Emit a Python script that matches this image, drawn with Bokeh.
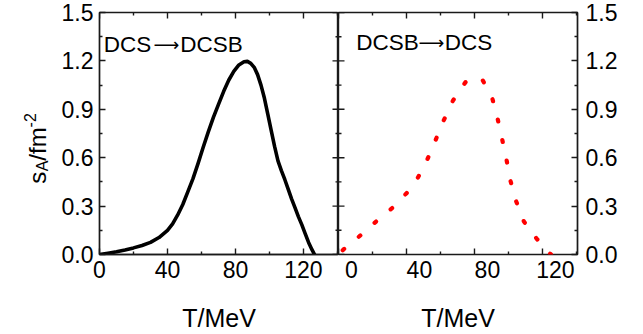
import math
from bokeh.plotting import figure
from bokeh.layouts import row
from bokeh.models import LinearAxis, FixedTicker, Range1d, Label, PrintfTickFormatter
from bokeh.core.properties import value
from bokeh.embed import file_html
from bokeh.resources import INLINE

# ---- data ----
t_dcs_to_dcsb = [0, 5, 10, 15, 20, 25, 30, 35, 40, 43, 46, 49, 52, 55, 58, 61, 64, 67,
                 70, 73, 76, 79, 82, 85, 87, 89, 91, 93, 95, 97, 99, 101, 103, 105, 107,
                 109, 111, 113, 115, 117, 119, 121, 123, 125, 126.5]
s_dcs_to_dcsb = [0.0, 0.008, 0.017, 0.028, 0.041, 0.056, 0.075, 0.105, 0.15, 0.19, 0.245,
                 0.31, 0.39, 0.47, 0.565, 0.665, 0.76, 0.85, 0.93, 1.01, 1.08, 1.135,
                 1.175, 1.195, 1.197, 1.185, 1.16, 1.115, 1.05, 0.97, 0.87, 0.77, 0.67,
                 0.58, 0.52, 0.465, 0.405, 0.345, 0.29, 0.235, 0.185, 0.13, 0.075, 0.03, 0.0]

t_dcsb_to_dcs = [0, 3.1, 13.1, 22.3, 31.8, 40.4, 46.8, 52.3, 57.2, 61.9, 67.4, 74.7,
                 79.5, 84.7, 90.4, 93.5, 96.2, 98.8, 101.1, 104.3, 109.0, 116.5, 124.3, 125]
s_dcsb_to_dcs = [0.0, 0.033, 0.12, 0.206, 0.29, 0.384, 0.478, 0.59, 0.711, 0.831, 0.955,
                 1.068, 1.095, 1.082, 0.971, 0.847, 0.718, 0.59, 0.46, 0.336, 0.206,
                 0.099, 0.006, 0.0]

x_major = [0, 40, 80, 120]
x_minor = [20, 60, 100, 140]
y_major = [0.0, 0.3, 0.6, 0.9, 1.2, 1.5]
y_minor = [0.15, 0.45, 0.75, 1.05, 1.35]

x_lo, x_hi = 0, 140.6
y_lo, y_hi = 0, 1.5
right_label_shift = 7.6   # the right panel's printed tick labels sit right of its ticks

FONT = "Liberation Sans"
AX_COLOR = "#1a1a1a"
LW = 1.4
H = 334
TOP, BOTTOM = 12, 79


def style_axis(ax, ticks, minor, fmt=None, show_ticks=True):
    ax.ticker = FixedTicker(ticks=ticks, minor_ticks=minor if show_ticks else [])
    if fmt is not None:
        ax.formatter = fmt
    ax.axis_line_color = AX_COLOR if show_ticks else None
    ax.axis_line_width = LW
    ax.major_tick_line_color = AX_COLOR if show_ticks else None
    ax.minor_tick_line_color = AX_COLOR if show_ticks else None
    ax.major_tick_line_width = LW
    ax.minor_tick_line_width = LW
    ax.major_tick_in = 6
    ax.major_tick_out = 0
    ax.minor_tick_in = 3
    ax.minor_tick_out = 0
    ax.major_label_text_font = FONT
    ax.major_label_text_font_size = "23px"
    ax.major_label_text_color = "black"
    ax.axis_label_text_font = FONT
    ax.axis_label_text_font_style = "normal"
    ax.axis_label_text_color = "black"
    ax.axis_label_text_font_size = "25px"


def border_ticks(p, sides):
    # inward tick marks on the unlabeled sides, clipped by the frame
    for side in sides:
        if side == "top":
            xs_M, ys_M, xs_m, ys_m, ang = x_major, [y_hi] * len(x_major), x_minor, [y_hi] * len(x_minor), math.pi / 2
        elif side == "bottom":
            xs_M, ys_M, xs_m, ys_m, ang = x_major, [y_lo] * len(x_major), x_minor, [y_lo] * len(x_minor), math.pi / 2
        elif side == "left":
            xs_M, ys_M, xs_m, ys_m, ang = [x_lo] * len(y_major), y_major, [x_lo] * len(y_minor), y_minor, 0
        else:
            xs_M, ys_M, xs_m, ys_m, ang = [x_hi] * len(y_major), y_major, [x_hi] * len(y_minor), y_minor, 0
        p.scatter(xs_M, ys_M, marker="dash", size=12, angle=ang, line_color=AX_COLOR,
                  line_width=LW, fill_color=None)
        p.scatter(xs_m, ys_m, marker="dash", size=6, angle=ang, line_color=AX_COLOR,
                  line_width=LW, fill_color=None)


def make_panel(width, min_left, min_right):
    p = figure(width=width, height=H, x_range=Range1d(x_lo, x_hi),
               y_range=Range1d(y_lo, y_hi), output_backend="svg",
               toolbar_location=None, x_axis_location=None, y_axis_location=None)
    p.min_border_left = min_left
    p.min_border_right = min_right
    p.min_border_top = TOP
    p.min_border_bottom = BOTTOM
    p.outline_line_color = AX_COLOR
    p.outline_line_width = LW
    p.background_fill_color = "white"
    p.border_fill_color = "white"
    p.xgrid.visible = False
    p.ygrid.visible = False
    return p


yfmt1 = PrintfTickFormatter(format="%.1f")
yfmt2 = PrintfTickFormatter(format="%.1f")

# ---- narrow strip holding the rotated y-axis title  s_A/fm^-2 ----
# (its frame is aligned with the panels' frames by the row layout, so the
#  range is chosen to make 1 unit = 1 pixel, counted up from the page bottom)
yt = figure(width=55, height=H, x_range=Range1d(0, 55), y_range=Range1d(BOTTOM, H - TOP),
            output_backend="svg", toolbar_location=None, x_axis_location=None,
            y_axis_location=None, min_border=0)
yt.min_border_top = TOP
yt.min_border_bottom = BOTTOM
yt.outline_line_color = None
yt.background_fill_color = "white"
yt.border_fill_color = "white"
yt.xgrid.visible = False
yt.ygrid.visible = False
rot = math.pi / 2
yt.text(x=[37, 37], y=[150, 173.2], text=["s", "/fm"], angle=rot,
        text_font=value(FONT), text_font_size="24px", text_color="black",
        text_baseline="alphabetic", text_align="left")
yt.text(x=[42, 29], y=[162.5, 206.6], text=["A", "-2"], angle=rot,
        text_font=value(FONT), text_font_size="16px", text_color="black",
        text_baseline="alphabetic", text_align="left")

# ---- left panel: DCS -> DCSB ----
p1 = make_panel(283, 44, 0)
ax = LinearAxis()
style_axis(ax, x_major, x_minor)
ax.axis_label = "T/MeV"
ax.major_label_standoff = 6
ax.axis_label_standoff = 23
p1.add_layout(ax, "below")
ay = LinearAxis()
style_axis(ay, y_major, y_minor, fmt=yfmt1)
ay.major_label_standoff = 6
p1.add_layout(ay, "left")
border_ticks(p1, ["top", "right"])

p1.line(t_dcs_to_dcsb, s_dcs_to_dcsb, line_color="black", line_width=3.6,
        line_join="round", line_cap="round")

# ---- right panel: DCSB -> DCS ----
p2 = make_panel(305, 0, 66)
p2.extra_x_ranges = {"lbl": Range1d(x_lo - right_label_shift, x_hi - right_label_shift)}
ax2 = LinearAxis(x_range_name="lbl")
style_axis(ax2, x_major, x_minor, show_ticks=False)
ax2.axis_label = "T/MeV"
ax2.major_label_standoff = 6
ax2.axis_label_standoff = 23
p2.add_layout(ax2, "below")
ay2 = LinearAxis()
style_axis(ay2, y_major, y_minor, fmt=yfmt2)
ay2.major_label_standoff = 8
p2.add_layout(ay2, "right")
border_ticks(p2, ["top", "left", "bottom"])

p2.line(t_dcsb_to_dcs, s_dcsb_to_dcs, line_color="#ff0000", line_width=4.2,
        line_dash="2 19", line_dash_offset=15, line_cap="round", line_join="round")

# ---- panel captions ----
def caption(p, parts, y):
    for txt, xs, font, size in parts:
        p.add_layout(Label(x=xs, y=y, text=txt, text_font=font, text_font_size=size,
                           text_color="black", text_baseline="alphabetic",
                           text_align="left"))

caption(p1, [("DCS", 2.5, FONT, "22.5px"), ("\u27f6", 31.8, "DejaVu Sans", "18px"),
             ("DCSB", 47.5, FONT, "22.5px")], 1.299)
caption(p2, [("DCSB", 10.5, FONT, "22.5px"), ("\u27f6", 47.1, "DejaVu Sans", "18px"),
             ("DCS", 62.5, FONT, "22.5px")], 1.313)

layout = row(yt, p1, p2)
open("out.html", "w").write(file_html(layout, INLINE))
